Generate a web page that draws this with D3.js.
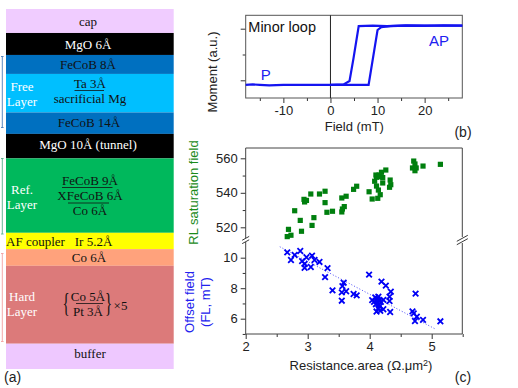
<!DOCTYPE html>
<html>
<head>
<meta charset="utf-8">
<script src="https://cdn.jsdelivr.net/npm/d3@7"></script>
<style>
  body { margin: 0; background: #fff; }
  svg { display: block; }
  text { font-family: "Liberation Sans", Arial, sans-serif; fill: #222; }
  .stack text { font-family: "Liberation Serif", "Times New Roman", serif; font-size: 13px; text-anchor: middle; dominant-baseline: central; fill: #111; }
  .stack text.light { fill: #fff; }
  .axis text { font-size: 13px; fill: #222; }
  .axis line { stroke: #333; }
  .axis path { display: none; }
</style>
</head>
<body>
<div class="js-chart"></div>
<script>
// Panel (a): layer stack, top to bottom
const layerNames = ["cap", "MgO 6Å", "FeCoB 8Å", "Ta/Mg", "FeCoB 14Å", "MgO 10Å (tunnel)", "Ref", "Ir", "Co 6Å", "Hard", "buffer"];
const layerThickness = [24, 22, 19, 38.5, 21.5, 24.5, 74.5, 16.3, 16.7, 78, 25.3];
const layerColors = ["#f0ccff", "#000000", "#0070c0", "#00bfff", "#0070c0", "#000000", "#00b85c", "#ffff00", "#ffa27c", "#dc7a7a", "#eec8ff"];

// Panel (b): minor loop
const loopUpField = [-18, -16.5, -15, -13, -10, -7, -4, 0, 3, 6, 8.1, 10, 10.8, 12.7, 16, 20, 24, 28];
const loopUpMoment = [-0.09, -0.08, -0.09, -0.1, -0.09, -0.09, -0.09, -0.09, -0.09, -0.09, -0.09, 0.975, 1.03, 1.05, 1.06, 1.055, 1.065, 1.06];
const loopDownField = [28, 22, 16, 12, 9, 6, 4.9, 4.05, 2.8, 0];
const loopDownMoment = [1.06, 1.06, 1.065, 1.05, 1.06, 1.05, 0.43, -0.014, -0.08, -0.09];

// Panel (c), top: RL saturation field
const greenArea = [2.67, 2.73, 2.69, 2.90, 2.88, 2.79, 3.07, 3.10, 2.94, 2.98, 2.95, 3.05, 3.19, 3.28, 3.28, 3.31, 3.40, 3.55, 3.56, 3.59, 3.55, 3.62, 3.74, 3.79, 3.99, 4.04, 4.13, 4.17, 4.14, 4.11, 4.08, 4.21, 4.32, 4.34, 4.33, 4.26, 4.19, 4.10, 4.15, 4.17, 4.21, 4.11, 4.71, 4.73, 4.69, 4.75, 4.73, 4.86, 5.14];
const greenField = [514.6, 515.4, 518.8, 517.7, 524, 529.6, 521.1, 525.6, 536.2, 535.6, 534.7, 539.3, 539.3, 540.9, 534.3, 528.7, 529.3, 528.9, 530.6, 532, 537, 538, 542, 543.8, 540.6, 536.4, 536.8, 538.9, 541.6, 543.9, 546.7, 545.7, 543.2, 544.7, 547.4, 553.2, 551.9, 550.3, 550.3, 549.3, 548.8, 549, 558.4, 556.7, 554.4, 554.4, 552.8, 555.5, 556.5];

// Panel (c), bottom: offset field
const blueArea = [2.67, 2.73, 2.79, 2.88, 2.91, 2.98, 2.95, 2.95, 3.05, 3.07, 3.11, 3.19, 3.32, 3.28, 3.40, 3.58, 3.56, 3.55, 3.62, 3.55, 3.74, 3.79, 3.99, 4.19, 4.26, 4.34, 4.32, 4.32, 4.22, 4.33, 4.22, 4.11, 4.04, 4.09, 4.14, 4.07, 4.11, 4.16, 4.10, 4.15, 4.18, 4.14, 4.17, 4.12, 4.16, 4.74, 4.69, 4.71, 4.76, 4.73, 4.86, 5.14];
const blueOffset = [10.35, 9.85, 10.18, 10.44, 9.78, 10.03, 9.59, 9.34, 9.39, 10.13, 9.85, 9.72, 9.32, 8.73, 7.86, 8.36, 8.14, 7.73, 7.80, 7.18, 7.62, 7.53, 8.89, 8.43, 8.17, 7.77, 7.44, 7.16, 7.23, 6.44, 6.62, 6.47, 7.22, 7.40, 7.44, 7.10, 7.17, 7.20, 6.95, 6.90, 7.10, 6.68, 6.52, 7.30, 6.80, 7.64, 6.48, 6.35, 6.13, 5.85, 5.92, 5.83];
const trendArea = [2.55, 5.06];
const trendOffset = [10.72, 5.32];

const svg = d3.select(".js-chart").append("svg").attr("width", 518).attr("height", 388);

// Draw one line of text
const addText = function (parent, str, x, y, cls) {
  return parent.append("text").attr("x", x).attr("y", y).attr("class", cls || null).text(str);
};

// A tick axis with big labelled ticks and small unlabelled ones
const addAxis = function (axisFn, scale, major, minor, labels, translate) {
  const g = svg.append("g").attr("class", "axis").attr("transform", translate);
  g.append("g").call(axisFn(scale).tickValues(minor).tickSize(3).tickFormat(""));
  g.append("g").call(axisFn(scale).tickValues(major).tickSize(5).tickPadding(3)
    .tickFormat(labels || String));
};

/**
 * Panel (a): coloured layers and their labels.
 */
const drawStack = function () {
  const stack = svg.append("g").attr("class", "stack");
  const total = d3.sum(layerThickness);
  const yStack = d3.scaleLinear().domain([0, total]).range([9, 369]);
  const tops = d3.cumsum([0].concat(layerThickness));

  stack.selectAll("rect").data(layerNames).join("rect")
    .attr("x", 6)
    .attr("width", 167.7)
    .attr("y", (d, i) => yStack(tops[i]))
    .attr("height", (d, i) => yStack(layerThickness[i]) - yStack(0))
    .attr("fill", (d, i) => layerColors[i]);

  addText(stack, "cap", 88, 21);
  addText(stack, "MgO 6Å", 88, 44, "light");
  addText(stack, "FeCoB 8Å", 88, 64.5);
  addText(stack, "Free", 22, 86.5, "light");
  addText(stack, "Layer", 22, 101.5, "light");
  addText(stack, "Ta 3Å", 90, 83);
  addText(stack, "sacrificial Mg", 90, 98.5);
  addText(stack, "FeCoB 14Å", 89, 122.5);
  addText(stack, "MgO 10Å (tunnel)", 88, 144.5, "light");
  addText(stack, "Ref.", 22, 189.5, "light");
  addText(stack, "Layer", 22, 204.5, "light");
  addText(stack, "FeCoB 9Å", 90, 180.5);
  addText(stack, "XFeCoB 6Å", 90, 195.5);
  addText(stack, "Co 6Å", 90, 210.5);
  addText(stack, "AF coupler", 35.5, 241.5);
  addText(stack, "Ir 5.2Å", 93.5, 241.5);
  addText(stack, "Co 6Å", 89, 257.5);
  addText(stack, "Hard", 22, 296.5, "light");
  addText(stack, "Layer", 22, 311.5, "light");
  addText(stack, "Co 5Å", 88, 296.5);
  addText(stack, "Pt 3Å", 88, 311.5);
  // braces squeezed sideways so they stay clear of the fraction
  addText(stack, "{", 0, 0).style("font-size", "27px").attr("transform", "translate(66,303) scale(0.55,1)");
  addText(stack, "}", 0, 0).style("font-size", "27px").attr("transform", "translate(108.5,303) scale(0.55,1)");
  addText(stack, "×5", 120.5, 305);
  addText(stack, "buffer", 90, 353.5);

  // fraction bars
  const bars = [[74.5, 104, 90.5], [62, 112.5, 187.5], [68, 109, 203], [76, 103, 303.5]];
  stack.selectAll("line.bar").data(bars).join("line")
    .attr("class", "bar")
    .attr("x1", d => d[0]).attr("x2", d => d[1])
    .attr("y1", d => d[2]).attr("y2", d => d[2])
    .attr("stroke", "#111").attr("stroke-width", 0.8);

  // side brackets
  const brackets = [[56.5, 127.5, "#4a7ebb"], [158.5, 234, "#55b08a"], [253.5, 341.5, "#f2a0a0"]];
  brackets.forEach(function (b) {
    svg.append("path")
      .attr("d", "M1 " + b[0] + "H3.6M2.3 " + b[0] + "V" + b[1] + "M1 " + b[1] + "H3.6")
      .attr("fill", "none").attr("stroke", b[2]).attr("stroke-width", 0.9);
  });

  addText(svg, "(a)", 4, 382).style("font-size", "14px");
};

/**
 * Panel (b): hysteresis minor loop.
 */
const drawLoop = function () {
  const x = d3.scaleLinear().domain([-18, 28]).range([245.7, 462.3]);
  const y = d3.scaleLinear().domain([0, 1]).range([80.3, 28.7]);
  const top = 15.3, bottom = 98;

  addAxis(d3.axisBottom, x, [-10, 0, 10, 20], [-15, -5, 5, 15, 25], null, "translate(0," + bottom + ")");
  addAxis(d3.axisLeft, y, [0, 1], [0.5], () => "", "translate(245.7,0)");

  svg.append("rect").attr("x", 245.7).attr("y", top).attr("width", 216.6).attr("height", bottom - top)
    .attr("fill", "none").attr("stroke", "#555").attr("stroke-width", 1);
  svg.append("line").attr("x1", x(0)).attr("x2", x(0)).attr("y1", top).attr("y2", bottom)
    .attr("stroke", "#222").attr("stroke-width", 1);

  const line = d3.line().x(d => x(d[0])).y(d => y(d[1]));
  [d3.zip(loopUpField, loopUpMoment), d3.zip(loopDownField, loopDownMoment)].forEach(function (branch) {
    svg.append("path").attr("d", line(branch))
      .attr("fill", "none").attr("stroke", "#1414f0").attr("stroke-width", 2.2);
  });

  addText(svg, "Minor loop", 248.3, 32).style("font-size", "14.5px").style("fill", "#111");
  addText(svg, "P", 265.7, 80).attr("text-anchor", "middle").style("font-size", "15px").style("fill", "#2020f0");
  addText(svg, "AP", 439, 45.5).attr("text-anchor", "middle").style("font-size", "15px").style("fill", "#2020f0");
  addText(svg, "Field (mT)", 354.3, 130.5).attr("text-anchor", "middle").style("font-size", "13px");
  addText(svg, "Moment (a.u.)", 0, 0).attr("text-anchor", "middle").style("font-size", "13px")
    .attr("transform", "translate(217,72) rotate(-90)");
  addText(svg, "(b)", 463, 137).attr("text-anchor", "middle").style("font-size", "14px");
};

/**
 * Panel (c): two stacked scatter plots sharing one x axis and one frame.
 */
const drawScatter = function () {
  const left = 245.7, right = 462.3, top = 148, bottom = 334, breakY = 240;
  const x = d3.scaleLinear().domain([2, 5.5]).range([left, left + 217]);
  const yTop = d3.scaleLinear().domain([520, 560]).range([227.3, 158.3]);
  const yBottom = d3.scaleLinear().domain([6, 10]).range([318.7, 257.7]);

  addAxis(d3.axisBottom, x, [2, 3, 4, 5], [2.5, 3.5, 4.5, 5.5], null, "translate(0," + bottom + ")");
  addAxis(d3.axisLeft, yTop, [520, 540, 560], [530, 550], null, "translate(" + left + ",0)");
  addAxis(d3.axisLeft, yBottom, [6, 8, 10], [5, 7, 9], null, "translate(" + left + ",0)");

  // frame, with a gap on both sides where the axis breaks
  svg.append("path")
    .attr("d", "M" + left + " " + (breakY - 2) + "V" + top + "H" + right + "V" + (breakY - 3)
      + "M" + right + " " + (breakY + 3) + "V" + bottom + "H" + left + "V" + (breakY + 2))
    .attr("fill", "none").attr("stroke", "#444").attr("stroke-width", 1);

  // break marks
  [[left, 3.5], [right, 5.5]].forEach(function (b) {
    [-1.7, 1.7].forEach(function (dy) {
      svg.append("line")
        .attr("x1", b[0] - b[1]).attr("x2", b[0] + b[1])
        .attr("y1", breakY + dy + b[1] * 0.55).attr("y2", breakY + dy - b[1] * 0.55)
        .attr("stroke", "#222").attr("stroke-width", 0.9);
    });
  });

  const trend = d3.line().x(d => x(d[0])).y(d => yBottom(d[1]));
  svg.append("path").attr("d", trend(d3.zip(trendArea, trendOffset)))
    .attr("fill", "none").attr("stroke", "#3a3af5").attr("stroke-width", 0.9).attr("stroke-dasharray", "1 2");

  svg.append("g").selectAll("path").data(d3.zip(greenArea, greenField)).join("path")
    .attr("d", d3.symbol(d3.symbolSquare, 27))
    .attr("transform", d => "translate(" + x(d[0]) + "," + yTop(d[1]) + ")")
    .attr("fill", "#007f0e");

  svg.append("g").selectAll("path").data(d3.zip(blueArea, blueOffset)).join("path")
    .attr("d", d3.symbol(d3.symbolTimes, 22))
    .attr("transform", d => "translate(" + x(d[0]) + "," + yBottom(d[1]) + ")")
    .attr("fill", "none").attr("stroke", "#0000f5").attr("stroke-width", 1.8);

  const xLabel = addText(svg, "Resistance.area (Ω.μm", 0, 369.5).attr("text-anchor", "middle")
    .attr("x", 361).style("font-size", "13px");
  xLabel.append("tspan").attr("dy", -4).style("font-size", "9px").text("2");
  xLabel.append("tspan").attr("dy", 4).text(")");

  addText(svg, "RL saturation field", 0, 0).attr("text-anchor", "middle").style("font-size", "13px")
    .style("fill", "#1a8a1a").attr("transform", "translate(197.5,192.5) rotate(-90)");
  addText(svg, "Offset field", 0, 0).attr("text-anchor", "middle").style("font-size", "13px")
    .style("fill", "#2222ee").attr("transform", "translate(194,302) rotate(-90)");
  addText(svg, "(FL, mT)", 0, 0).attr("text-anchor", "middle").style("font-size", "13px")
    .style("fill", "#2222ee").attr("transform", "translate(210,302) rotate(-90)");
  addText(svg, "(c)", 463, 382).attr("text-anchor", "middle").style("font-size", "14px");
};

drawStack();
drawLoop();
drawScatter();
</script>
</body>
</html>
